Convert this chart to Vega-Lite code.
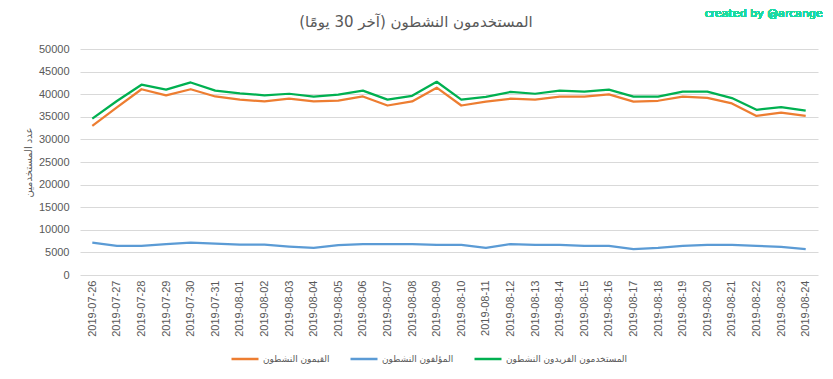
{
  "$schema": "https://vega.github.io/schema/vega-lite/v6.json",
  "width": 738,
  "height": 226,
  "autosize": {"type": "none"},
  "padding": {"left": 80, "top": 49, "right": 15, "bottom": 104},
  "background": "white",
  "title": {
    "text": "المستخدمون النشطون (آخر 30 يومًا)",
    "font": "DejaVu Sans",
    "fontSize": 15,
    "fontWeight": "normal",
    "color": "#595959",
    "anchor": "middle",
    "dx": -33,
    "offset": 0,
    "dy": 22
  },
  "config": {
    "view": {"stroke": null},
    "font": "Liberation Sans"
  },
  "data": {
    "values": [
      {"date": "2019-07-26", "series": "القيمون النشطون", "value": 33000},
      {"date": "2019-07-27", "series": "القيمون النشطون", "value": 37100},
      {"date": "2019-07-28", "series": "القيمون النشطون", "value": 41100},
      {"date": "2019-07-29", "series": "القيمون النشطون", "value": 39750},
      {"date": "2019-07-30", "series": "القيمون النشطون", "value": 41100},
      {"date": "2019-07-31", "series": "القيمون النشطون", "value": 39500},
      {"date": "2019-08-01", "series": "القيمون النشطون", "value": 38800},
      {"date": "2019-08-02", "series": "القيمون النشطون", "value": 38400},
      {"date": "2019-08-03", "series": "القيمون النشطون", "value": 39000},
      {"date": "2019-08-04", "series": "القيمون النشطون", "value": 38400},
      {"date": "2019-08-05", "series": "القيمون النشطون", "value": 38600},
      {"date": "2019-08-06", "series": "القيمون النشطون", "value": 39500},
      {"date": "2019-08-07", "series": "القيمون النشطون", "value": 37500},
      {"date": "2019-08-08", "series": "القيمون النشطون", "value": 38400},
      {"date": "2019-08-09", "series": "القيمون النشطون", "value": 41450},
      {"date": "2019-08-10", "series": "القيمون النشطون", "value": 37500},
      {"date": "2019-08-11", "series": "القيمون النشطون", "value": 38350},
      {"date": "2019-08-12", "series": "القيمون النشطون", "value": 39000},
      {"date": "2019-08-13", "series": "القيمون النشطون", "value": 38800},
      {"date": "2019-08-14", "series": "القيمون النشطون", "value": 39450},
      {"date": "2019-08-15", "series": "القيمون النشطون", "value": 39450},
      {"date": "2019-08-16", "series": "القيمون النشطون", "value": 39950},
      {"date": "2019-08-17", "series": "القيمون النشطون", "value": 38350},
      {"date": "2019-08-18", "series": "القيمون النشطون", "value": 38550},
      {"date": "2019-08-19", "series": "القيمون النشطون", "value": 39450},
      {"date": "2019-08-20", "series": "القيمون النشطون", "value": 39200},
      {"date": "2019-08-21", "series": "القيمون النشطون", "value": 37950},
      {"date": "2019-08-22", "series": "القيمون النشطون", "value": 35200},
      {"date": "2019-08-23", "series": "القيمون النشطون", "value": 35900},
      {"date": "2019-08-24", "series": "القيمون النشطون", "value": 35200},
      {"date": "2019-07-26", "series": "المؤلفون النشطون", "value": 7150},
      {"date": "2019-07-27", "series": "المؤلفون النشطون", "value": 6450},
      {"date": "2019-07-28", "series": "المؤلفون النشطون", "value": 6450},
      {"date": "2019-07-29", "series": "المؤلفون النشطون", "value": 6850},
      {"date": "2019-07-30", "series": "المؤلفون النشطون", "value": 7150},
      {"date": "2019-07-31", "series": "المؤلفون النشطون", "value": 6950},
      {"date": "2019-08-01", "series": "المؤلفون النشطون", "value": 6700},
      {"date": "2019-08-02", "series": "المؤلفون النشطون", "value": 6700},
      {"date": "2019-08-03", "series": "المؤلفون النشطون", "value": 6300},
      {"date": "2019-08-04", "series": "المؤلفون النشطون", "value": 6000},
      {"date": "2019-08-05", "series": "المؤلفون النشطون", "value": 6600},
      {"date": "2019-08-06", "series": "المؤلفون النشطون", "value": 6850},
      {"date": "2019-08-07", "series": "المؤلفون النشطون", "value": 6850},
      {"date": "2019-08-08", "series": "المؤلفون النشطون", "value": 6850},
      {"date": "2019-08-09", "series": "المؤلفون النشطون", "value": 6650},
      {"date": "2019-08-10", "series": "المؤلفون النشطون", "value": 6650},
      {"date": "2019-08-11", "series": "المؤلفون النشطون", "value": 6000},
      {"date": "2019-08-12", "series": "المؤلفون النشطون", "value": 6850},
      {"date": "2019-08-13", "series": "المؤلفون النشطون", "value": 6650},
      {"date": "2019-08-14", "series": "المؤلفون النشطون", "value": 6650},
      {"date": "2019-08-15", "series": "المؤلفون النشطون", "value": 6450},
      {"date": "2019-08-16", "series": "المؤلفون النشطون", "value": 6450},
      {"date": "2019-08-17", "series": "المؤلفون النشطون", "value": 5750},
      {"date": "2019-08-18", "series": "المؤلفون النشطون", "value": 6000},
      {"date": "2019-08-19", "series": "المؤلفون النشطون", "value": 6450},
      {"date": "2019-08-20", "series": "المؤلفون النشطون", "value": 6650},
      {"date": "2019-08-21", "series": "المؤلفون النشطون", "value": 6650},
      {"date": "2019-08-22", "series": "المؤلفون النشطون", "value": 6450},
      {"date": "2019-08-23", "series": "المؤلفون النشطون", "value": 6200},
      {"date": "2019-08-24", "series": "المؤلفون النشطون", "value": 5750},
      {"date": "2019-07-26", "series": "المستخدمون الفريدون النشطون", "value": 34600},
      {"date": "2019-07-27", "series": "المستخدمون الفريدون النشطون", "value": 38500},
      {"date": "2019-07-28", "series": "المستخدمون الفريدون النشطون", "value": 42100},
      {"date": "2019-07-29", "series": "المستخدمون الفريدون النشطون", "value": 41000},
      {"date": "2019-07-30", "series": "المستخدمون الفريدون النشطون", "value": 42600},
      {"date": "2019-07-31", "series": "المستخدمون الفريدون النشطون", "value": 40800},
      {"date": "2019-08-01", "series": "المستخدمون الفريدون النشطون", "value": 40200},
      {"date": "2019-08-02", "series": "المستخدمون الفريدون النشطون", "value": 39750},
      {"date": "2019-08-03", "series": "المستخدمون الفريدون النشطون", "value": 40100},
      {"date": "2019-08-04", "series": "المستخدمون الفريدون النشطون", "value": 39450},
      {"date": "2019-08-05", "series": "المستخدمون الفريدون النشطون", "value": 39900},
      {"date": "2019-08-06", "series": "المستخدمون الفريدون النشطون", "value": 40800},
      {"date": "2019-08-07", "series": "المستخدمون الفريدون النشطون", "value": 38800},
      {"date": "2019-08-08", "series": "المستخدمون الفريدون النشطون", "value": 39650},
      {"date": "2019-08-09", "series": "المستخدمون الفريدون النشطون", "value": 42750},
      {"date": "2019-08-10", "series": "المستخدمون الفريدون النشطون", "value": 38800},
      {"date": "2019-08-11", "series": "المستخدمون الفريدون النشطون", "value": 39400},
      {"date": "2019-08-12", "series": "المستخدمون الفريدون النشطون", "value": 40500},
      {"date": "2019-08-13", "series": "المستخدمون الفريدون النشطون", "value": 40100},
      {"date": "2019-08-14", "series": "المستخدمون الفريدون النشطون", "value": 40800},
      {"date": "2019-08-15", "series": "المستخدمون الفريدون النشطون", "value": 40550},
      {"date": "2019-08-16", "series": "المستخدمون الفريدون النشطون", "value": 41000},
      {"date": "2019-08-17", "series": "المستخدمون الفريدون النشطون", "value": 39450},
      {"date": "2019-08-18", "series": "المستخدمون الفريدون النشطون", "value": 39450},
      {"date": "2019-08-19", "series": "المستخدمون الفريدون النشطون", "value": 40550},
      {"date": "2019-08-20", "series": "المستخدمون الفريدون النشطون", "value": 40550},
      {"date": "2019-08-21", "series": "المستخدمون الفريدون النشطون", "value": 39150},
      {"date": "2019-08-22", "series": "المستخدمون الفريدون النشطون", "value": 36550},
      {"date": "2019-08-23", "series": "المستخدمون الفريدون النشطون", "value": 37150},
      {"date": "2019-08-24", "series": "المستخدمون الفريدون النشطون", "value": 36350}
    ]
  },
  "layer": [
    {
      "mark": {"type": "line", "strokeWidth": 2.25, "strokeJoin": "round"},
      "encoding": {
        "x": {
          "field": "date",
          "type": "ordinal",
          "scale": {"type": "point", "padding": 0.5},
          "axis": {
            "title": null,
            "labelAngle": -90,
            "labelFont": "Liberation Sans",
            "labelFontSize": 11,
            "labelColor": "#595959",
            "labelPadding": 5,
            "ticks": false,
            "domain": false,
            "grid": false
          }
        },
        "y": {
          "field": "value",
          "type": "quantitative",
          "scale": {"domain": [0, 50000], "nice": false},
          "axis": {
            "values": [0, 5000, 10000, 15000, 20000, 25000, 30000, 35000, 40000, 45000, 50000],
            "labelOverlap": false,
            "format": "d",
            "title": "عدد المستخدمين",
            "titleFont": "DejaVu Sans",
            "titleFontSize": 10,
            "titleFontWeight": "normal",
            "titleColor": "#595959",
            "titlePadding": 5,
            "labelFont": "Liberation Sans",
            "labelFontSize": 11,
            "labelColor": "#595959",
            "labelPadding": 11,
            "ticks": false,
            "domain": false,
            "gridColor": "#d9d9d9",
            "gridWidth": 1
          }
        },
        "color": {
          "field": "series",
          "type": "nominal",
          "scale": {
            "domain": ["القيمون النشطون", "المؤلفون النشطون", "المستخدمون الفريدون النشطون"],
            "range": ["#ED7D31", "#5B9BD5", "#00B050"]
          },
          "legend": {
            "title": null,
            "orient": "none",
            "direction": "horizontal",
            "legendX": 150,
            "legendY": 295,
            "symbolType": "stroke",
            "symbolSize": 729,
            "symbolStrokeWidth": 2.5,
            "labelFont": "DejaVu Sans",
            "labelFontSize": 9,
            "labelColor": "#595959",
            "labelOffset": 3,
            "columnPadding": 15
          }
        }
      }
    },
    {
      "mark": {
        "type": "text",
        "align": "right",
        "baseline": "middle",
        "dx": 17,
        "font": "DejaVu Sans",
        "fontSize": 11,
        "fontWeight": "normal",
        "color": "#1ED9A0"
      },
      "encoding": {
        "x": {
          "datum": "2019-08-24",
          "type": "ordinal",
          "axis": {
            "title": null,
            "labelAngle": -90,
            "labelFont": "Liberation Sans",
            "labelFontSize": 11,
            "labelColor": "#595959",
            "labelPadding": 5,
            "ticks": false,
            "domain": false,
            "grid": false
          }
        },
        "y": {
          "datum": 57700,
          "type": "quantitative",
          "axis": {
            "values": [0, 5000, 10000, 15000, 20000, 25000, 30000, 35000, 40000, 45000, 50000],
            "labelOverlap": false,
            "format": "d",
            "title": "عدد المستخدمين",
            "titleFont": "DejaVu Sans",
            "titleFontSize": 10,
            "titleFontWeight": "normal",
            "titleColor": "#595959",
            "titlePadding": 5,
            "labelFont": "Liberation Sans",
            "labelFontSize": 11,
            "labelColor": "#595959",
            "labelPadding": 11,
            "ticks": false,
            "domain": false,
            "gridColor": "#d9d9d9",
            "gridWidth": 1
          }
        },
        "text": {"value": "created by @arcange"}
      }
    }
  ]
}
